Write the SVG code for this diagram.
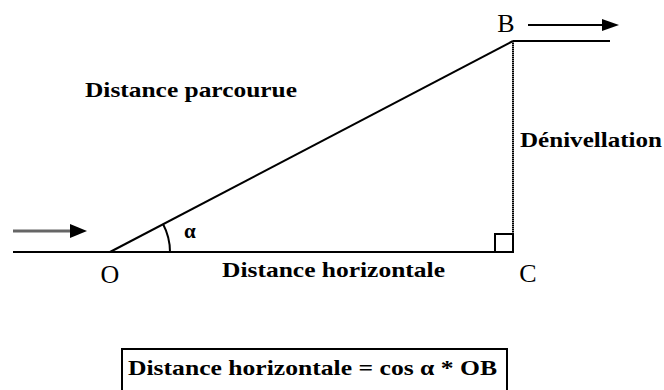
<svg xmlns="http://www.w3.org/2000/svg" width="664" height="390" viewBox="0 0 664 390">
<style>
.lbl{font-family:"Liberation Serif","Times New Roman",serif;font-weight:bold;font-size:21px;fill:#000}
.pt{font-family:"Liberation Serif","Times New Roman",serif;font-size:26px;fill:#000}
.ln{stroke:#000;stroke-width:2;fill:none}
</style>
<rect width="664" height="390" fill="#fff"/>
<g id="connectors">
<line x1="13" y1="252" x2="513" y2="252" class="ln"/>
<line x1="110" y1="252" x2="513" y2="41" class="ln"/>
<line x1="513" y1="41" x2="513" y2="252" stroke="#000" stroke-width="2" stroke-dasharray="1.5,0.5"/>
<line x1="513" y1="41" x2="610" y2="41" class="ln"/>
<line x1="13" y1="231" x2="72" y2="231" stroke="#666" stroke-width="3"/>
<path d="M70,224 L87,231 L70,238 Z" fill="#000"/>
<line x1="528" y1="25" x2="605" y2="25" class="ln"/>
<path d="M602,19 L619,25 L602,31 Z" fill="#000"/>
<path d="M170,252 A60,60 0 0 0 163,224" class="ln" stroke-width="1.5"/>
<rect x="495" y="234" width="18" height="18" class="ln"/>
</g>
<g id="O"><text x="110" y="283" class="pt" text-anchor="middle">O</text></g>
<g id="B"><text x="506" y="32" class="pt" text-anchor="middle">B</text></g>
<g id="C"><text x="528" y="282" class="pt" text-anchor="middle">C</text></g>
<g id="alpha"><text x="184" y="238" class="lbl" font-size="24">α</text></g>
<g id="parcourue"><text x="85" y="97" class="lbl" textLength="212" lengthAdjust="spacingAndGlyphs">Distance parcourue</text></g>
<g id="denivellation"><text x="520" y="147" class="lbl" textLength="142" lengthAdjust="spacingAndGlyphs">Dénivellation</text></g>
<g id="horizontale"><text x="222" y="277" class="lbl" textLength="223" lengthAdjust="spacingAndGlyphs">Distance horizontale</text></g>
<g id="formula">
<rect x="122" y="349" width="385" height="50" fill="none" stroke="#000" stroke-width="2"/>
<text x="128" y="375" class="lbl" textLength="369" lengthAdjust="spacingAndGlyphs">Distance horizontale = cos α * OB</text>
</g>
</svg>
